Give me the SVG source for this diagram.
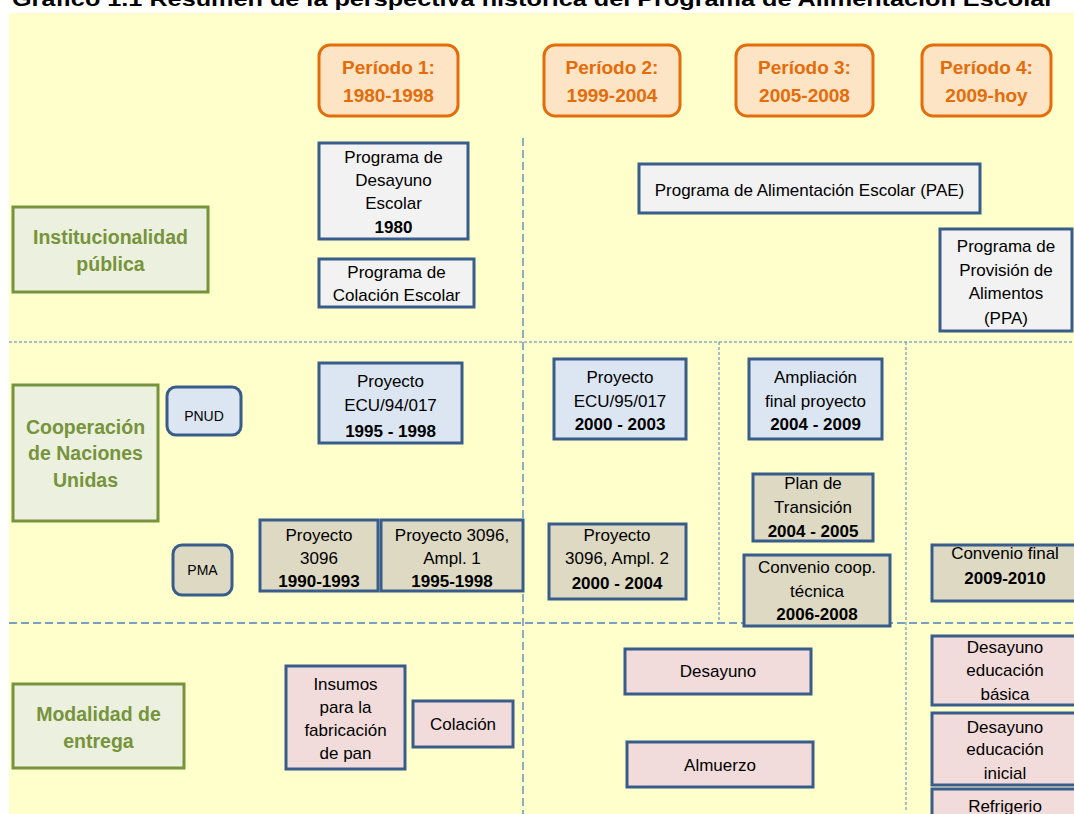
<svg xmlns="http://www.w3.org/2000/svg" width="1074" height="814" viewBox="0 0 1074 814">
<style>
text{font-family:"Liberation Sans",Arial,sans-serif;text-anchor:middle}
.t{font-size:17px;fill:#000}
.b{font-weight:bold}
.per rect{fill:#FCE4C4;stroke:#E46C0A;stroke-width:3}
.per text{font-size:19px;font-weight:bold;fill:#E46C0A}
.cat rect{fill:#EBF1DE;stroke:#77933C;stroke-width:3}
.cat text{font-size:19.5px;font-weight:bold;fill:#77933C}
.gray{fill:#F2F2F2;stroke:#385D8A;stroke-width:3}
.blue{fill:#DCE6F2;stroke:#385D8A;stroke-width:3}
.tan{fill:#DDD9C3;stroke:#385D8A;stroke-width:3}
.pink{fill:#F2DCDB;stroke:#385D8A;stroke-width:3}
.sm{font-size:14px;fill:#000}
.grid line{stroke:#4F81BD;fill:none}
.fine{stroke-width:1;stroke-dasharray:3 2}
.long{stroke-width:1.3;stroke-dasharray:8 4}
</style>
<rect x="9" y="13" width="1065" height="801" fill="#FFFFCC"/>
<text x="12" y="6" style="text-anchor:start;font-size:20px;font-weight:bold" fill="#000" textLength="1042" lengthAdjust="spacingAndGlyphs">Gráfico 1.1  Resumen de la perspectiva histórica del Programa de Alimentación Escolar</text>

<g id="separators" class="grid">
<line class="fine" x1="9" y1="342" x2="1074" y2="342"/>
<line class="long" x1="9" y1="623" x2="1074" y2="623"/>
<line class="long" x1="523" y1="138" x2="523" y2="814"/>
<line class="fine" x1="719" y1="342" x2="719" y2="623"/>
<line class="fine" x1="906" y1="342" x2="906" y2="812"/>
</g>

<g id="periodo1" class="per"><rect x="319" y="45" width="139" height="71" rx="11"/><text x="388.5" y="74">Período 1:</text><text x="388.5" y="102">1980-1998</text></g>
<g id="periodo2" class="per"><rect x="544" y="45" width="136" height="71" rx="11"/><text x="612" y="74">Período 2:</text><text x="612" y="102">1999-2004</text></g>
<g id="periodo3" class="per"><rect x="736" y="45" width="137" height="71" rx="11"/><text x="804.5" y="74">Período 3:</text><text x="804.5" y="102">2005-2008</text></g>
<g id="periodo4" class="per"><rect x="922" y="45" width="129" height="71" rx="11"/><text x="986.5" y="74">Período 4:</text><text x="986.5" y="102">2009-hoy</text></g>

<g id="cat-institucionalidad" class="cat"><rect x="13" y="207" width="195" height="85"/><text x="110.5" y="244">Institucionalidad</text><text x="110.5" y="271">pública</text></g>
<g id="cat-cooperacion" class="cat"><rect x="13" y="385" width="145" height="136"/><text x="85.5" y="434">Cooperación</text><text x="85.5" y="460">de Naciones</text><text x="85.5" y="487">Unidas</text></g>
<g id="cat-modalidad" class="cat"><rect x="13" y="684" width="171" height="84"/><text x="98.5" y="721">Modalidad de</text><text x="98.5" y="748">entrega</text></g>

<g id="desayuno-escolar"><rect class="gray" x="319" y="143" width="149" height="96"/><text class="t" x="393.5" y="163">Programa de</text><text class="t" x="393.5" y="186">Desayuno</text><text class="t" x="393.5" y="209">Escolar</text><text class="t b" x="393.5" y="233">1980</text></g>
<g id="colacion-escolar"><rect class="gray" x="319" y="259" width="155" height="48"/><text class="t" x="396.5" y="278">Programa de</text><text class="t" x="396.5" y="301">Colación Escolar</text></g>
<g id="pae"><rect class="gray" x="639" y="164" width="341" height="49"/><text class="t" x="809.5" y="196">Programa de Alimentación Escolar (PAE)</text></g>
<g id="ppa"><rect class="gray" x="940" y="229" width="132" height="102"/><text class="t" x="1006" y="252">Programa de</text><text class="t" x="1006" y="276">Provisión de</text><text class="t" x="1006" y="299">Alimentos</text><text class="t" x="1006" y="324">(PPA)</text></g>

<g id="pnud"><rect class="blue" x="167" y="387" width="74" height="48" rx="9"/><text class="sm" x="204" y="421">PNUD</text></g>
<g id="pma"><rect class="tan" x="173" y="545" width="59" height="50" rx="9"/><text class="sm" x="202.5" y="575">PMA</text></g>

<g id="ecu94"><rect class="blue" x="319" y="363" width="143" height="80"/><text class="t" x="390.5" y="387">Proyecto</text><text class="t" x="390.5" y="411">ECU/94/017</text><text class="t b" x="390.5" y="437">1995 - 1998</text></g>
<g id="ecu95"><rect class="blue" x="554" y="359" width="132" height="80"/><text class="t" x="620" y="383">Proyecto</text><text class="t" x="620" y="407">ECU/95/017</text><text class="t b" x="620" y="430">2000 - 2003</text></g>
<g id="ampliacion"><rect class="blue" x="749" y="359" width="133" height="80"/><text class="t" x="815.5" y="383">Ampliación</text><text class="t" x="815.5" y="407">final proyecto</text><text class="t b" x="815.5" y="430">2004 - 2009</text></g>

<g id="p3096"><rect class="tan" x="260" y="520" width="118" height="71"/><text class="t" x="319" y="541">Proyecto</text><text class="t" x="319" y="564">3096</text><text class="t b" x="319" y="587">1990-1993</text></g>
<g id="p3096a1"><rect class="tan" x="381" y="520" width="142" height="71"/><text class="t" x="452" y="541">Proyecto 3096,</text><text class="t" x="452" y="564">Ampl. 1</text><text class="t b" x="452" y="587">1995-1998</text></g>
<g id="p3096a2"><rect class="tan" x="549" y="524" width="137" height="75"/><text class="t" x="617" y="541">Proyecto</text><text class="t" x="617" y="564">3096, Ampl. 2</text><text class="t b" x="617" y="589">2000 - 2004</text></g>
<g id="transicion"><rect class="tan" x="753" y="474" width="120" height="67"/><text class="t" x="813" y="489">Plan de</text><text class="t" x="813" y="513">Transición</text><text class="t b" x="813" y="537">2004 - 2005</text></g>
<g id="convenio-coop"><rect class="tan" x="744" y="555" width="146" height="71"/><text class="t" x="817" y="573">Convenio coop.</text><text class="t" x="817" y="597">técnica</text><text class="t b" x="817" y="620">2006-2008</text></g>
<g id="convenio-final"><rect class="tan" x="932" y="545" width="150" height="56"/><text class="t" x="1005" y="559">Convenio final</text><text class="t b" x="1005" y="584">2009-2010</text></g>

<g id="insumos"><rect class="pink" x="286" y="666" width="119" height="103"/><text class="t" x="345.5" y="690">Insumos</text><text class="t" x="345.5" y="713">para la</text><text class="t" x="345.5" y="736">fabricación</text><text class="t" x="345.5" y="759">de pan</text></g>
<g id="colacion"><rect class="pink" x="413" y="701" width="100" height="46"/><text class="t" x="463" y="730">Colación</text></g>
<g id="desayuno"><rect class="pink" x="625" y="649" width="186" height="45"/><text class="t" x="718" y="677">Desayuno</text></g>
<g id="almuerzo"><rect class="pink" x="627" y="742" width="186" height="45"/><text class="t" x="720" y="771">Almuerzo</text></g>
<g id="desayuno-basica"><rect class="pink" x="932" y="636" width="146" height="69"/><text class="t" x="1005" y="653">Desayuno</text><text class="t" x="1005" y="676">educación</text><text class="t" x="1005" y="700">básica</text></g>
<g id="desayuno-inicial"><rect class="pink" x="932" y="713" width="146" height="72"/><text class="t" x="1005" y="733">Desayuno</text><text class="t" x="1005" y="755">educación</text><text class="t" x="1005" y="779">inicial</text></g>
<g id="refrigerio"><rect class="pink" x="932" y="789" width="146" height="40"/><text class="t" x="1005" y="812">Refrigerio</text></g>
</svg>
